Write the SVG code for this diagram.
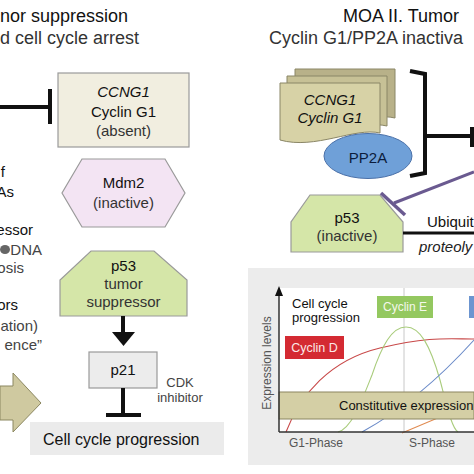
<svg xmlns="http://www.w3.org/2000/svg" width="474" height="474" viewBox="0 0 474 474">
<defs>
<style>
text{font-family:"Liberation Sans",Arial,Helvetica,sans-serif}
.t1{font-size:18px;fill:#111}
.t2{font-size:18px;fill:#333}
.side{font-size:15px;fill:#111}
.sideg{font-size:15px;fill:#444}
.lbl{font-size:15px;fill:#111;text-anchor:middle}
.lblg{font-size:15px;fill:#333;text-anchor:middle}
.it{font-style:italic}
.box{stroke:#9a9a9a;stroke-width:1.2}
.blk{stroke:#111;stroke-width:4;fill:none}
.small{font-size:13px;fill:#111}
.ax{font-size:12px;fill:#555}
.curve{fill:none;stroke-width:1.1}
</style>
</defs>
<rect width="474" height="474" fill="#fff"/>

<g id="titles">
<text class="t1" x="0" y="22">nor suppression</text>
<text class="t2" x="0" y="44">d cell cycle arrest</text>
<text class="t1" x="343" y="22">MOA II. Tumor</text>
<text class="t2" x="269" y="44">Cyclin G1/PP2A inactiva</text>
</g>

<g id="left-notes">
<text class="side" x="5" y="177" text-anchor="end">f</text>
<text class="side" x="14" y="197" text-anchor="end">As</text>
<text class="side" x="33" y="235" text-anchor="end">essor</text>
<ellipse cx="5" cy="249.5" rx="5" ry="4.5" fill="#666"/>
<text class="sideg" x="42" y="255" text-anchor="end">DNA</text>
<text class="sideg" x="24" y="273" text-anchor="end">osis</text>
<text class="side" x="18" y="310" text-anchor="end">ors</text>
<text class="sideg" x="38" y="331" text-anchor="end">ation)</text>
<text class="sideg" x="42" y="350" text-anchor="end">ence”</text>
</g>

<g id="cell-cycle-bar">
<rect x="30" y="422" width="194" height="33" fill="#ebebeb"/>
<text x="43" y="445" style="font-size:16px;fill:#111">Cell cycle progression</text>
</g>

<g id="big-arrow">
<path d="M0,386 L13,386 L13,373 L41,403 L13,432 L13,420 L0,420 Z" fill="#cfc9a0" stroke="#8b8760" stroke-width="1"/>
</g>

<g id="cyclinG1-left">
<rect class="box" x="58" y="73" width="131" height="74" fill="#f1eee0"/>
<text class="lbl it" x="123.5" y="97">CCNG1</text>
<text class="lbl" x="123.5" y="117">Cyclin G1</text>
<text class="lblg" x="123.5" y="136">(absent)</text>
</g>

<g id="mdm2">
<path class="box" d="M82,159 L165,159 L185,193 L165,227 L82,227 L62,193 Z" fill="#f3e4f3"/>
<text class="lbl" x="123.5" y="188">Mdm2</text>
<text class="lblg" x="123.5" y="208">(inactive)</text>
</g>

<g id="p53-left">
<path class="box" d="M91,251 L154,251 L187,280 L187,316 L60,316 L60,280 Z" fill="#d5e6a8"/>
<text class="lbl" x="123.5" y="271">p53</text>
<text class="lblg" x="123.5" y="289">tumor</text>
<text class="lblg" x="123.5" y="307">suppressor</text>
</g>

<g id="p21">
<rect class="box" x="89" y="352" width="68" height="36" fill="#ececec"/>
<text class="lbl" x="123" y="375">p21</text>
<text x="180" y="387" text-anchor="middle" class="small" style="fill:#444">CDK</text>
<text x="180" y="402" text-anchor="middle" class="small" style="fill:#444">inhibitor</text>
</g>

<g id="cyclinG1-right">
<path d="M295,69 L395,69 L395,118 C370,112 330,130 295,118 Z" fill="#b8b189" stroke="#8a8666" stroke-width="1"/>
<path d="M287,76 L387,76 L387,126 C362,120 322,138 287,126 Z" fill="#c7c196" stroke="#8a8666" stroke-width="1"/>
<path d="M280,83 L380,83 L380,133 C355,127 315,150 280,140 Z" fill="#d7d2a6" stroke="#8a8666" stroke-width="1"/>
<text class="lbl it" x="330" y="105">CCNG1</text>
<text class="lbl it" x="330" y="123">Cyclin G1</text>
</g>

<g id="pp2a">
<ellipse cx="368" cy="156" rx="44" ry="22.5" fill="#6fa0d8" stroke="#4a70a8" stroke-width="1"/>
<text class="lbl" x="368" y="163" style="fill:#0c1c3c">PP2A</text>
</g>

<g id="p53-right">
<path class="box" d="M310,195 L380,195 L403,222 L403,252 L291,252 L291,222 Z" fill="#d5e6a8"/>
<text class="lbl" x="347" y="223">p53</text>
<text class="lblg" x="347" y="241">(inactive)</text>
</g>

<g id="connectors">
<path class="blk" d="M0,107 L50,107"/>
<path class="blk" d="M50,89 L50,124"/>
<path class="blk" d="M123,316 L123,334"/>
<path d="M112,332 L135,332 L123.5,346 Z" fill="#111"/>
<path class="blk" d="M123,388 L123,415"/>
<path class="blk" d="M106,415 L141,415"/>
<path class="blk" d="M410,71 L425,74 L425,173 L410,176"/>
<path class="blk" d="M425,136 L472,136"/>
<path class="blk" d="M472,127 L472,147"/>
<path d="M474,172 L394,203" stroke="#6a5a90" stroke-width="3" fill="none"/>
<path d="M381,193 L405,215" stroke="#6a5a90" stroke-width="3.5" fill="none"/>
<path d="M403,233 L474,233" stroke="#111" stroke-width="3" fill="none"/>
<text class="lbl" x="427" y="227" style="text-anchor:start">Ubiquit</text>
<text class="lbl it" x="419" y="252" style="text-anchor:start;fill:#222">proteoly</text>
</g>

<g id="chart">
<rect x="248" y="268" width="226" height="197" fill="#ececec"/>
<rect x="279" y="288" width="195" height="144" fill="#fff"/>
<line x1="404" y1="288" x2="404" y2="432" stroke="#c8c8c8" stroke-width="1"/>
<path class="curve" stroke="#c84848" d="M286,432 C300,395 330,360 380,348 S450,339 474,339"/>
<path class="curve" stroke="#a9cc7c" d="M338,432 C352,428 362,400 372,375 C382,345 392,327 406,327 C420,327 430,345 440,380 C448,410 452,428 458,432"/>
<path class="curve" stroke="#6a8ac8" d="M362,432 Q420,400 474,340"/>
<path class="curve" stroke="#e08a50" d="M402,433 L440,417"/>
<rect x="279" y="392" width="195" height="27" fill="#d4cfa5" stroke="#8b8660" stroke-width="1"/>
<text x="339" y="410" style="font-size:13px;fill:#111">Constitutive expression</text>
<line x1="279" y1="432" x2="474" y2="432" stroke="#333" stroke-width="1.5"/>
<line x1="279" y1="432" x2="279" y2="294" stroke="#333" stroke-width="1.5"/>
<path d="M275,296 L283,296 L279,286 Z" fill="#111"/>
<text x="292" y="308" class="small">Cell cycle</text>
<text x="292" y="322" class="small">progression</text>
<rect x="377" y="296" width="56" height="22" fill="#94c860"/>
<text x="405" y="311" text-anchor="middle" style="font-size:12px;fill:#f4f8ec">Cyclin E</text>
<rect x="469" y="296" width="5" height="22" fill="#6c95d0"/>
<rect x="285" y="336" width="59" height="23" fill="#d42a32"/>
<text x="314.5" y="352" text-anchor="middle" style="font-size:12.5px;fill:#fbe8e8">Cyclin D</text>
<text transform="translate(271,363) rotate(-90)" text-anchor="middle" class="ax">Expression levels</text>
<text x="289" y="447" class="ax">G1-Phase</text>
<text x="409" y="447" class="ax">S-Phase</text>
</g>
</svg>
